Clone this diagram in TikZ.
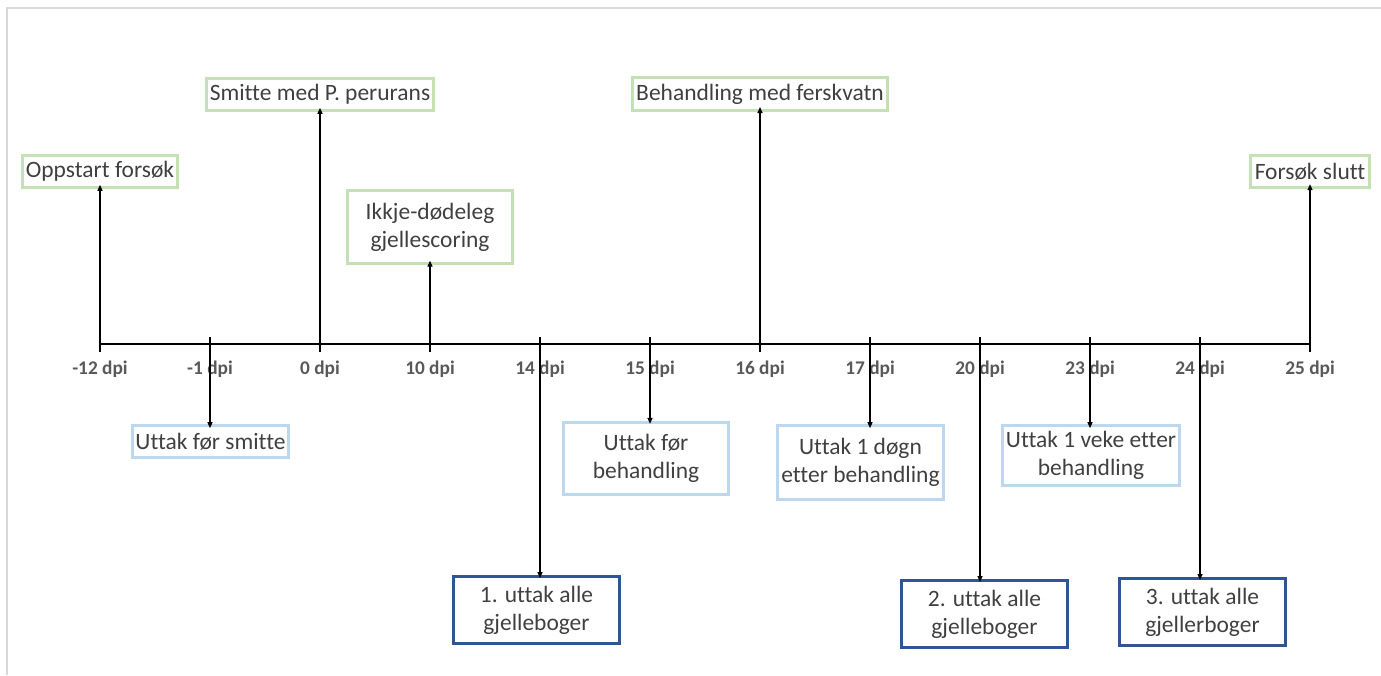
\documentclass[tikz,border=0pt]{standalone}
\usepackage{fontspec}
\setmainfont{Carlito}[Ligatures=CommonOff]
\usetikzlibrary{arrows.meta}
\definecolor{txtgray}{HTML}{404040}
\definecolor{lblgray}{HTML}{595959}
\definecolor{evgreen}{HTML}{C5E0B4}
\definecolor{smpblue}{HTML}{BDD7EE}
\definecolor{gillblue}{HTML}{2F5597}
\tikzset{box/.style={draw,line width=2pt,align=center,inner sep=0pt,text=txtgray,
                     font=\fontsize{17.6}{21}\selectfont},
         event/.style={box,draw=evgreen},
         sample/.style={box,draw=smpblue},
         gillbox/.style={box,draw=gillblue},
         ptr/.style={line width=0.9pt,-{Triangle[length=4.5pt,width=3.8pt]}},
         daylbl/.style={text=lblgray,font=\fontsize{14.5}{16}\selectfont\bfseries},
        }

\begin{document}
\begin{tikzpicture}[x=0.75pt,y=-0.75pt]
        \useasboundingbox (0,0) rectangle (1381,675);
        \draw[black!15,line width=1pt](7,675)--(7,8)--(1381,8);

        % time axis
        \draw[line width=2.2pt](100,344)--(1310,344);
        \foreach \d [count=\i from 0] in {-12,-1,0,10,14,15,16,17,20,23,24,25}{
            \coordinate(t\i)at(100+110*\i,344);
            \draw[line width=2.2pt](100+110*\i,337)--(100+110*\i,352);
            \node[daylbl](l\i)at(100+110*\i,369){\d{} dpi};
        }

        \node[event,minimum width=116pt,minimum height=24pt](opp)at(100,171.5){Oppstart forsøk};
        \node[event,minimum width=170pt,minimum height=24pt](smi)at(320,94.5){Smitte med P. perurans};
        \node[event,minimum width=123.5pt,minimum height=54.5pt](ikk)at(430,227){Ikkje-dødeleg\\gjellescoring};
        \node[event,minimum width=191pt,minimum height=24.5pt](beh)at(760,94){Behandling med ferskvatn};
        \node[event,minimum width=89pt,minimum height=24pt](slu)at(1310,171.5){Forsøk slutt};

        \draw[ptr](t0)--([yshift=3pt]opp.south);
        \draw[ptr](t2)--([yshift=3pt]smi.south);
        \draw[ptr](t3)--([yshift=3pt]ikk.south);
        \draw[ptr](t6)--([yshift=3.5pt]beh.south);
        \draw[ptr](t11)--([yshift=3.5pt]slu.south);

        \node[sample,minimum width=117pt,minimum height=24pt](ufs)at(210.5,441.5){Uttak før smitte};
        \node[sample,minimum width=123.5pt,minimum height=54pt](ufb)at(646,458.5){Uttak før\\behandling};
        \node[sample,minimum width=124.5pt,minimum height=55.5pt](udg)at(860.5,462.5){Uttak 1 døgn\\etter behandling};
        \node[sample,minimum width=132.5pt,minimum height=45pt](uvk)at(1091,455.5){Uttak 1 veke etter\\behandling};

        \draw[ptr](t1)--([yshift=-3pt]t1|-ufs.north);
        \draw[ptr](t5)--([yshift=-2pt]t5|-ufb.north);
        \draw[ptr](t7)--([yshift=-3pt]t7|-udg.north);
        \draw[ptr](t9)--([yshift=-3pt]t9|-uvk.north);

        \node[gillbox,minimum width=124.5pt,minimum height=50pt](g1)at(536.5,610){1. uttak alle\\gjelleboger};
        \node[gillbox,minimum width=124.5pt,minimum height=50pt](g2)at(984.5,614){2. uttak alle\\gjelleboger};
        \node[gillbox,minimum width=124.5pt,minimum height=50pt](g3)at(1202.5,612){3. uttak alle\\gjellerboger};

        \draw[ptr](t4)--([yshift=-2pt]t4|-g1.north);
        \draw[ptr](t8)--([yshift=-2pt]t8|-g2.north);
        \draw[ptr](t10)--([yshift=-2pt]t10|-g3.north);
    \end{tikzpicture}
\end{document}
